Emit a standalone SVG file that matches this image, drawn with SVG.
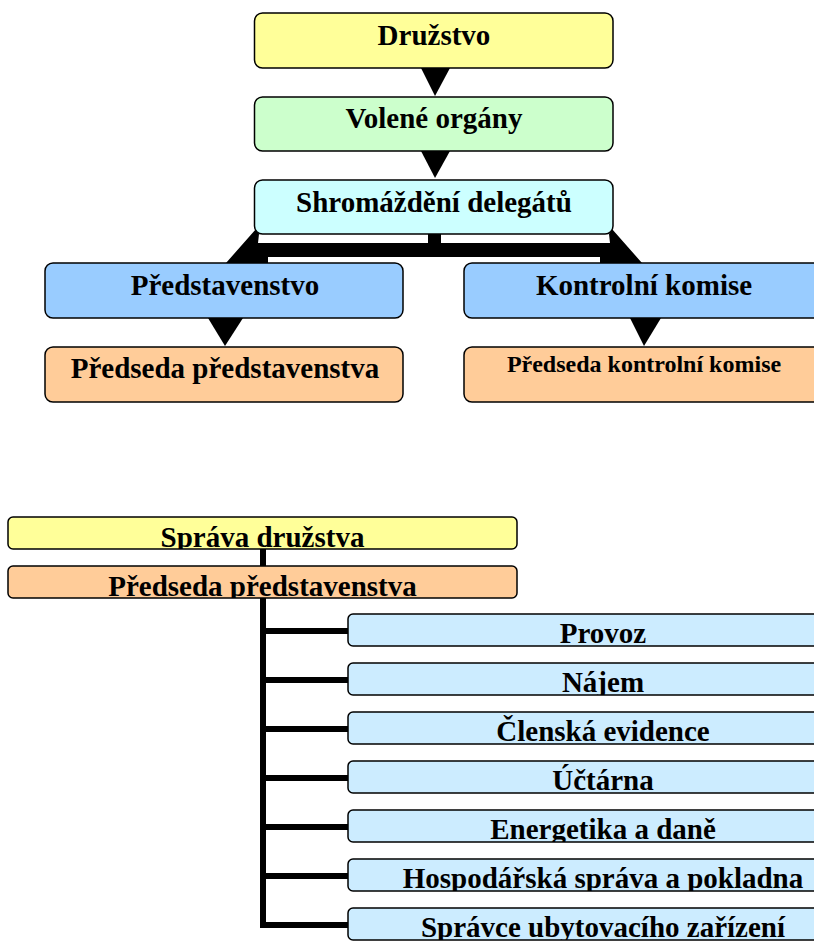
<svg xmlns="http://www.w3.org/2000/svg" width="814" height="941" viewBox="0 0 814 941">
<style>
.box{stroke:#000;stroke-width:1.5}
.t{font-family:"Liberation Serif","Times New Roman",serif;font-weight:bold;font-size:29px;text-anchor:middle;fill:#000}
.ts{font-size:24px}
.yel{fill:#FFFF99}.grn{fill:#CCFFCC}.cyan{fill:#CCFFFF}.blu{fill:#99CCFF}.org{fill:#FFCC99}.lb{fill:#CCECFF}
.ln{stroke:#000;stroke-width:6;fill:none}
</style>
<defs>
<clipPath id="c1"><rect x="8" y="517" width="509" height="32"/></clipPath>
<clipPath id="c2"><rect x="8" y="566" width="509" height="32"/></clipPath>
<clipPath id="c3"><rect x="348" y="614" width="510" height="32"/></clipPath>
<clipPath id="c4"><rect x="348" y="663" width="510" height="32"/></clipPath>
<clipPath id="c5"><rect x="348" y="712" width="510" height="32"/></clipPath>
<clipPath id="c6"><rect x="348" y="761" width="510" height="32"/></clipPath>
<clipPath id="c7"><rect x="348" y="810" width="510" height="32"/></clipPath>
<clipPath id="c8"><rect x="348" y="859" width="510" height="32"/></clipPath>
<clipPath id="c9"><rect x="348" y="908" width="510" height="32"/></clipPath>
</defs>
<g id="connectors" fill="#000">
<polygon points="421,68 450,68 435,96"/>
<polygon points="421,151 450,151 435,178"/>
<rect x="428" y="234" width="13" height="10"/>
<rect x="257" y="243" width="356" height="14"/>
<polygon points="256,229 226,263 268,263 268,257 258,243 259,234"/>
<polygon points="612,229 642,263 600,263 600,257 610,243 609,234"/>
<polygon points="208,318 243,318 225,346"/>
<polygon points="630,318 661,318 644,346"/>
<path class="ln" d="M263,549 V566 M263,598 V925 H348 M263,631 H348 M263,680 H348 M263,729 H348 M263,778 H348 M263,827 H348 M263,876 H348"/>
</g>
<g id="druzstvo"><rect class="box yel" x="254.5" y="13" width="358.5" height="55" rx="8"/><text class="t" x="434" y="45">Družstvo</text></g>
<g id="volene"><rect class="box grn" x="254.5" y="97" width="358.5" height="54" rx="8"/><text class="t" x="434" y="128">Volené orgány</text></g>
<g id="shromazdeni"><rect class="box cyan" x="254.5" y="180" width="358.5" height="54" rx="8"/><text class="t" x="434" y="212">Shromáždění delegátů</text></g>
<g id="predstavenstvo"><rect class="box blu" x="45" y="263" width="358" height="55" rx="8"/><text class="t" x="225" y="295">Představenstvo</text></g>
<g id="kontrolni"><rect class="box blu" x="464" y="263" width="360" height="55" rx="8"/><text class="t" x="644" y="295">Kontrolní komise</text></g>
<g id="predseda1"><rect class="box org" x="45" y="347" width="358" height="55" rx="8"/><text class="t" x="225" y="378">Předseda představenstva</text></g>
<g id="predseda2"><rect class="box org" x="464" y="347" width="360" height="55" rx="8"/><text class="t ts" x="644" y="372">Předseda kontrolní komise</text></g>
<g id="sprava"><rect class="box yel" x="8" y="517" width="509" height="32" rx="5"/><text class="t" x="262.5" y="547" clip-path="url(#c1)">Správa družstva</text></g>
<g id="predseda3"><rect class="box org" x="8" y="566" width="509" height="32" rx="5"/><text class="t" x="262.5" y="596" clip-path="url(#c2)">Předseda představenstva</text></g>
<g id="provoz"><rect class="box lb" x="348" y="614" width="510" height="32" rx="5"/><text class="t" x="603" y="643" clip-path="url(#c3)">Provoz</text></g>
<g id="najem"><rect class="box lb" x="348" y="663" width="510" height="32" rx="5"/><text class="t" x="603" y="692" clip-path="url(#c4)">Nájem</text></g>
<g id="clenska"><rect class="box lb" x="348" y="712" width="510" height="32" rx="5"/><text class="t" x="603" y="741" clip-path="url(#c5)">Členská evidence</text></g>
<g id="uctarna"><rect class="box lb" x="348" y="761" width="510" height="32" rx="5"/><text class="t" x="603" y="790" clip-path="url(#c6)">Účtárna</text></g>
<g id="energetika"><rect class="box lb" x="348" y="810" width="510" height="32" rx="5"/><text class="t" x="603" y="839" clip-path="url(#c7)">Energetika a daně</text></g>
<g id="hospodarska"><rect class="box lb" x="348" y="859" width="510" height="32" rx="5"/><text class="t" x="603" y="888" clip-path="url(#c8)">Hospodářská správa a pokladna</text></g>
<g id="spravce"><rect class="box lb" x="348" y="908" width="510" height="32" rx="5"/><text class="t" x="603" y="937" clip-path="url(#c9)">Správce ubytovacího zařízení</text></g>
</svg>
